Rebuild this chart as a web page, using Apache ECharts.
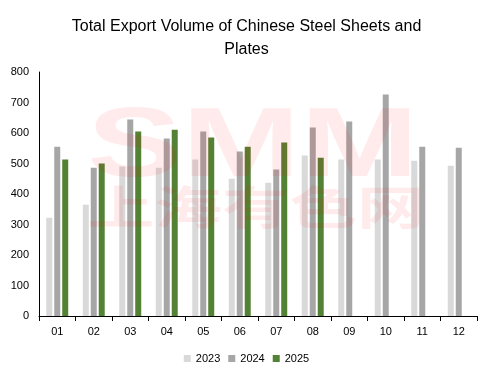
<!DOCTYPE html>
<html><head><meta charset="utf-8">
<script src="https://cdn.jsdelivr.net/npm/echarts@6/dist/echarts.min.js"></script>
<style>html,body{margin:0;padding:0;background:#fff}#c{width:493px;height:379px}</style>
</head><body><div id="c"></div>
<script>
const categories = ['01','02','03','04','05','06','07','08','09','10','11','12'];
const s2023 = [322,365,490,486,513,450,437,526,513,513,509,493];
const s2024 = [555,486,644,582,605,539,480,618,638,726,555,552];
const s2025 = [513,500,605,611,585,555,569,519,null,null,null,null];
const yTicks = [0,100,200,300,400,500,600,700,800];

const chart = echarts.init(document.getElementById('c'));
const font = 'Liberation Sans, Arial, sans-serif';
chart.setOption({
  animation:false,
  title:{text:'Total Export Volume of Chinese Steel Sheets and\nPlates',left:'center',top:10,
    textStyle:{fontFamily:font,fontSize:16,fontWeight:'normal',color:'#000',lineHeight:23}},
  legend:{bottom:10,left:'center',itemWidth:7,itemHeight:7,itemGap:8,icon:'rect',
    textStyle:{fontFamily:font,fontSize:11,color:'#000'}},
  grid:{left:39,right:16,top:72,bottom:63},
  xAxis:{type:'category',data:categories,
    axisLine:{lineStyle:{color:'#000',width:1}},
    axisTick:{show:true,length:5,lineStyle:{color:'#000'}},
    axisLabel:{fontFamily:font,fontSize:11,color:'#000',margin:10}},
  yAxis:{type:'value',min:yTicks[0],max:yTicks[yTicks.length-1],interval:100,
    axisLine:{show:true,lineStyle:{color:'#000'}},axisTick:{show:false},
    splitLine:{show:false},
    axisLabel:{fontFamily:font,fontSize:11,color:'#000',margin:10}},
  graphic:[
    {type:'text',left:87,top:100,z:100,silent:true,scaleX:1.45,
      style:{text:'SMM',font:'bold 98px Liberation Sans, Arial',fill:'rgba(255,0,0,0.08)'}},
    {type:'text',left:87,top:184,z:100,silent:true,scaleX:1.25,scaleY:0.85,
      style:{text:'上海有色网',font:'bold 54px Noto Sans CJK SC',fill:'rgba(255,0,0,0.08)'}}
  ],
  series:[
    {name:'2023',type:'bar',data:s2023,barWidth:6,barGap:'33%',itemStyle:{color:'#d9d9d9'}},
    {name:'2024',type:'bar',data:s2024,barWidth:6,barGap:'33%',itemStyle:{color:'#a6a6a6'}},
    {name:'2025',type:'bar',data:s2025,barWidth:6,barGap:'33%',itemStyle:{color:'#548235'}}
  ]
});
</script></body></html>
